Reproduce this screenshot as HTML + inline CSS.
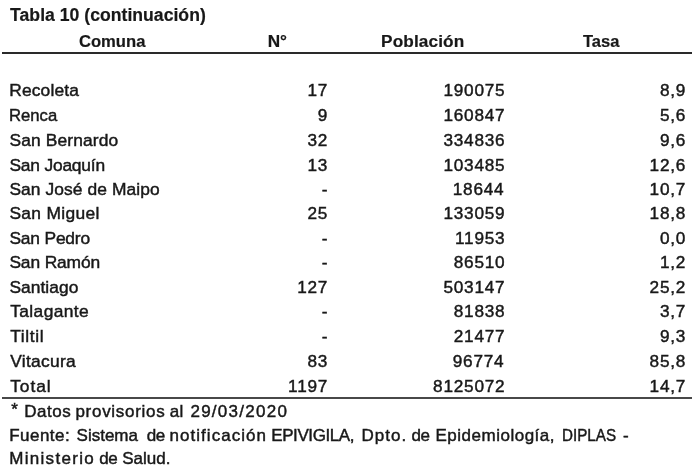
<!DOCTYPE html>
<html lang="es"><head><meta charset="utf-8"><title>Tabla 10 (continuación)</title>
<style>
html,body{margin:0;padding:0;background:#fff;}
body{width:700px;height:469px;position:relative;overflow:hidden;font-family:"Liberation Sans",sans-serif;color:#181818;}
h1,p,table,thead,tbody,tfoot,tr{display:block;margin:0;padding:0;border:0;font-size:inherit;font-weight:inherit;}
table{border-spacing:0;border-collapse:collapse;}
.t{display:block;position:absolute;margin:0;padding:0;white-space:nowrap;line-height:20px;height:20px;font-weight:normal;text-align:left;-webkit-text-stroke:0.45px #181818;}
.b{font-weight:bold;-webkit-text-stroke-width:0.2px;}
.r{text-align:right;}
.hl{position:absolute;left:2px;width:690px;height:2px;background:#2a2a2a;}
</style></head><body>
<h1 class="t b" style="top:4.90px;font-size:17.6px;left:10.10px;letter-spacing:0.022px;">Tabla 10 (continuación)</h1>
<div class="hl" style="top:52px"></div>
<table>
<thead><tr><th class="t b" style="top:31.04px;font-size:17.2px;left:79.10px;transform:scaleX(0.9654);transform-origin:0 0;">Comuna</th><th class="t b" style="top:31.04px;font-size:17.2px;left:267.85px;letter-spacing:-0.362px;">N°</th><th class="t b" style="top:31.04px;font-size:17.2px;left:381.10px;letter-spacing:0.115px;">Población</th><th class="t b" style="top:31.04px;font-size:17.2px;left:583.10px;transform:scaleX(0.9598);transform-origin:0 0;">Tasa</th></tr></thead>
<tbody>
<tr><td class="t" style="top:79.97px;font-size:17.4px;left:9.22px;letter-spacing:0.156px;">Recoleta</td><td class="t r" style="top:80.04px;font-size:17.2px;right:371.89px;letter-spacing:0.770px;">17</td><td class="t r" style="top:80.04px;font-size:17.2px;right:194.59px;letter-spacing:0.770px;">190075</td><td class="t r" style="top:80.04px;font-size:17.2px;right:13.89px;letter-spacing:0.770px;">8,9</td></tr>
<tr><td class="t" style="top:104.97px;font-size:17.4px;left:9.26px;transform:scaleX(0.9589);transform-origin:0 0;">Renca</td><td class="t r" style="top:105.04px;font-size:17.2px;right:372.66px;">9</td><td class="t r" style="top:105.04px;font-size:17.2px;right:194.59px;letter-spacing:0.770px;">160847</td><td class="t r" style="top:105.04px;font-size:17.2px;right:13.89px;letter-spacing:0.770px;">5,6</td></tr>
<tr><td class="t" style="top:129.97px;font-size:17.4px;left:9.42px;letter-spacing:0.129px;">San Bernardo</td><td class="t r" style="top:130.04px;font-size:17.2px;right:371.89px;letter-spacing:0.770px;">32</td><td class="t r" style="top:130.04px;font-size:17.2px;right:194.59px;letter-spacing:0.770px;">334836</td><td class="t r" style="top:130.04px;font-size:17.2px;right:13.89px;letter-spacing:0.770px;">9,6</td></tr>
<tr><td class="t" style="top:154.97px;font-size:17.4px;left:9.42px;letter-spacing:-0.193px;">San Joaquín</td><td class="t r" style="top:155.04px;font-size:17.2px;right:371.89px;letter-spacing:0.770px;">13</td><td class="t r" style="top:155.04px;font-size:17.2px;right:194.59px;letter-spacing:0.770px;">103485</td><td class="t r" style="top:155.04px;font-size:17.2px;right:13.89px;letter-spacing:0.770px;">12,6</td></tr>
<tr><td class="t" style="top:178.97px;font-size:17.4px;left:9.42px;letter-spacing:0.084px;">San José de Maipo</td><td class="t r" style="top:179.04px;font-size:17.2px;right:372.50px;">-</td><td class="t r" style="top:179.04px;font-size:17.2px;right:195.59px;letter-spacing:0.770px;">18644</td><td class="t r" style="top:179.04px;font-size:17.2px;right:13.89px;letter-spacing:0.770px;">10,7</td></tr>
<tr><td class="t" style="top:202.97px;font-size:17.4px;left:9.42px;letter-spacing:0.324px;">San Miguel</td><td class="t r" style="top:203.04px;font-size:17.2px;right:371.89px;letter-spacing:0.770px;">25</td><td class="t r" style="top:203.04px;font-size:17.2px;right:194.59px;letter-spacing:0.770px;">133059</td><td class="t r" style="top:203.04px;font-size:17.2px;right:13.89px;letter-spacing:0.770px;">18,8</td></tr>
<tr><td class="t" style="top:227.97px;font-size:17.4px;left:9.42px;letter-spacing:-0.181px;">San Pedro</td><td class="t r" style="top:228.04px;font-size:17.2px;right:372.50px;">-</td><td class="t r" style="top:228.04px;font-size:17.2px;right:194.59px;letter-spacing:0.770px;">11953</td><td class="t r" style="top:228.04px;font-size:17.2px;right:13.89px;letter-spacing:0.770px;">0,0</td></tr>
<tr><td class="t" style="top:251.97px;font-size:17.4px;left:9.42px;letter-spacing:-0.138px;">San Ramón</td><td class="t r" style="top:252.04px;font-size:17.2px;right:372.50px;">-</td><td class="t r" style="top:252.04px;font-size:17.2px;right:194.59px;letter-spacing:0.770px;">86510</td><td class="t r" style="top:252.04px;font-size:17.2px;right:13.89px;letter-spacing:0.770px;">1,2</td></tr>
<tr><td class="t" style="top:276.97px;font-size:17.4px;left:9.42px;letter-spacing:0.047px;">Santiago</td><td class="t r" style="top:277.04px;font-size:17.2px;right:371.89px;letter-spacing:0.770px;">127</td><td class="t r" style="top:277.04px;font-size:17.2px;right:194.59px;letter-spacing:0.770px;">503147</td><td class="t r" style="top:277.04px;font-size:17.2px;right:13.89px;letter-spacing:0.770px;">25,2</td></tr>
<tr><td class="t" style="top:300.97px;font-size:17.4px;left:10.22px;letter-spacing:0.383px;">Talagante</td><td class="t r" style="top:301.04px;font-size:17.2px;right:372.50px;">-</td><td class="t r" style="top:301.04px;font-size:17.2px;right:194.59px;letter-spacing:0.770px;">81838</td><td class="t r" style="top:301.04px;font-size:17.2px;right:13.89px;letter-spacing:0.770px;">3,7</td></tr>
<tr><td class="t" style="top:325.97px;font-size:17.4px;left:10.22px;letter-spacing:0.632px;">Tiltil</td><td class="t r" style="top:326.04px;font-size:17.2px;right:372.50px;">-</td><td class="t r" style="top:326.04px;font-size:17.2px;right:194.59px;letter-spacing:0.770px;">21477</td><td class="t r" style="top:326.04px;font-size:17.2px;right:13.89px;letter-spacing:0.770px;">9,3</td></tr>
<tr><td class="t" style="top:350.97px;font-size:17.4px;left:10.22px;letter-spacing:0.286px;">Vitacura</td><td class="t r" style="top:351.04px;font-size:17.2px;right:371.89px;letter-spacing:0.770px;">83</td><td class="t r" style="top:351.04px;font-size:17.2px;right:195.59px;letter-spacing:0.770px;">96774</td><td class="t r" style="top:351.04px;font-size:17.2px;right:13.89px;letter-spacing:0.770px;">85,8</td></tr>
<tr><td class="t" style="top:375.97px;font-size:17.4px;left:10.22px;letter-spacing:0.923px;">Total</td><td class="t r" style="top:376.04px;font-size:17.2px;right:371.89px;letter-spacing:0.770px;">1197</td><td class="t r" style="top:376.04px;font-size:17.2px;right:194.59px;letter-spacing:0.770px;">8125072</td><td class="t r" style="top:376.04px;font-size:17.2px;right:13.89px;letter-spacing:0.770px;">14,7</td></tr>
</tbody>
</table>
<div class="hl" style="top:397px;background:#484848"></div>
<p><span class="t" style="top:400.31px;font-size:17px;left:11.20px;">*</span> <span class="t" style="top:401.61px;font-size:17px;left:24.22px;letter-spacing:0.538px;">Datos</span> <span class="t" style="top:401.61px;font-size:17px;left:75.42px;letter-spacing:0.717px;">provisorios</span> <span class="t" style="top:401.61px;font-size:17px;left:169.72px;letter-spacing:0.205px;">al</span> <span class="t" style="top:401.61px;font-size:17px;left:190.42px;letter-spacing:1.270px;">29/03/2020</span></p>
<p><span class="t" style="top:426.11px;font-size:17px;left:9.22px;letter-spacing:0.472px;">Fuente:</span> <span class="t" style="top:426.11px;font-size:17px;left:76.62px;letter-spacing:-0.016px;">Sistema</span> <span class="t" style="top:426.11px;font-size:17px;left:146.85px;letter-spacing:-0.450px;">de</span> <span class="t" style="top:426.11px;font-size:17px;left:169.52px;letter-spacing:1.042px;">notificación</span> <span class="t" style="top:426.11px;font-size:17px;left:271.22px;letter-spacing:-0.405px;">EPIVIGILA,</span> <span class="t" style="top:426.11px;font-size:17px;left:361.52px;letter-spacing:0.988px;">Dpto.</span> <span class="t" style="top:426.11px;font-size:17px;left:411.45px;letter-spacing:-0.450px;">de</span> <span class="t" style="top:426.11px;font-size:17px;left:435.52px;letter-spacing:0.502px;">Epidemiología,</span> <span class="t" style="top:426.11px;font-size:17px;left:562.03px;transform:scaleX(0.8939);transform-origin:0 0;">DIPLAS</span> <span class="t" style="top:426.11px;font-size:17px;left:623.10px;">-</span></p>
<p><span class="t" style="top:448.61px;font-size:17px;left:9.22px;letter-spacing:1.308px;">Ministerio</span> <span class="t" style="top:448.61px;font-size:17px;left:99.25px;letter-spacing:-0.450px;">de</span> <span class="t" style="top:448.61px;font-size:17px;left:122.22px;letter-spacing:0.016px;">Salud.</span></p>
</body></html>
